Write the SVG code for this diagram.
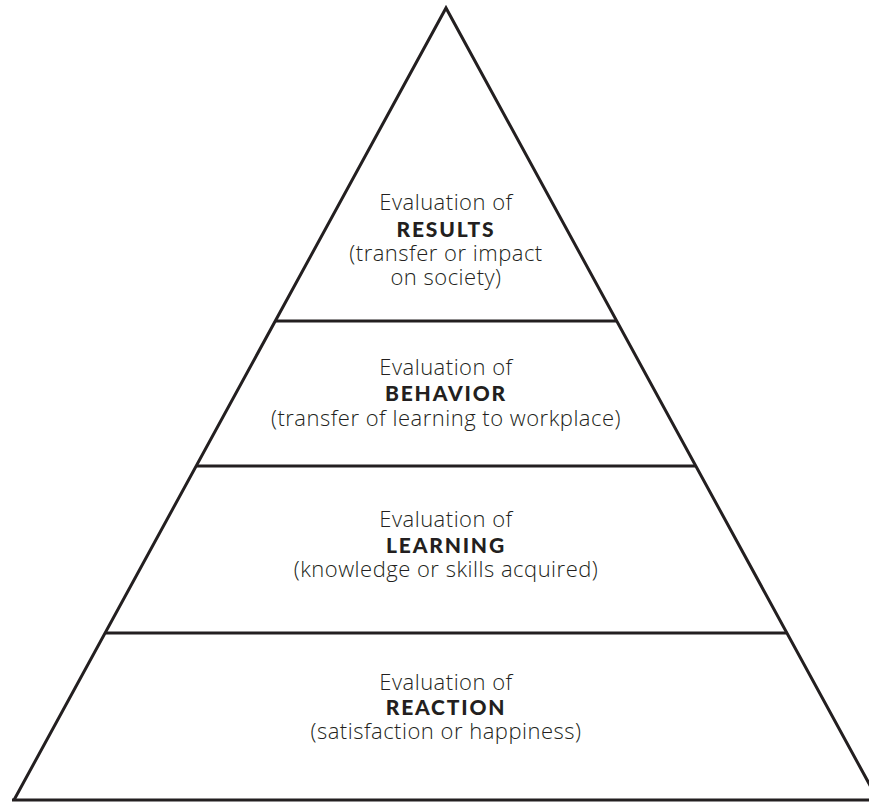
<svg xmlns="http://www.w3.org/2000/svg" width="869" height="802" viewBox="0 0 869 802">
<style>
.edge{fill:none;stroke:#231f20;stroke-width:3;stroke-linejoin:miter}
.t{font-family:"Open Sans",Lato,"Liberation Sans",sans-serif;font-size:22px;fill:#231f20;text-anchor:middle;font-weight:300;letter-spacing:0.5px}
.b{font-family:Lato,"Open Sans","Liberation Sans",sans-serif;font-size:21px;fill:#231f20;text-anchor:middle;font-weight:900;letter-spacing:1.8px}
</style>
<rect width="869" height="802" fill="#ffffff"/>
<g id="connectors">
<polyline class="edge" points="14,800 446,8 878,800"/>
<line class="edge" x1="12" y1="800" x2="869" y2="800"/>
<line class="edge" x1="276" y1="321" x2="616" y2="321"/>
<line class="edge" x1="197" y1="466" x2="695" y2="466"/>
<line class="edge" x1="106" y1="633" x2="786" y2="633"/>
</g>
<g id="results">
<text class="t" x="446" y="210">Evaluation of</text>
<text class="b" x="446" y="237">RESULTS</text>
<text class="t" x="446" y="261">(transfer or impact</text>
<text class="t" x="446" y="285">on society)</text>
</g>
<g id="behavior">
<text class="t" x="446" y="375">Evaluation of</text>
<text class="b" x="446" y="401">BEHAVIOR</text>
<text class="t" x="446" y="426">(transfer of learning to workplace)</text>
</g>
<g id="learning">
<text class="t" x="446" y="527">Evaluation of</text>
<text class="b" x="446" y="553">LEARNING</text>
<text class="t" x="446" y="577">(knowledge or skills acquired)</text>
</g>
<g id="reaction">
<text class="t" x="446" y="690">Evaluation of</text>
<text class="b" x="446" y="715">REACTION</text>
<text class="t" x="446" y="739">(satisfaction or happiness)</text>
</g>
</svg>
